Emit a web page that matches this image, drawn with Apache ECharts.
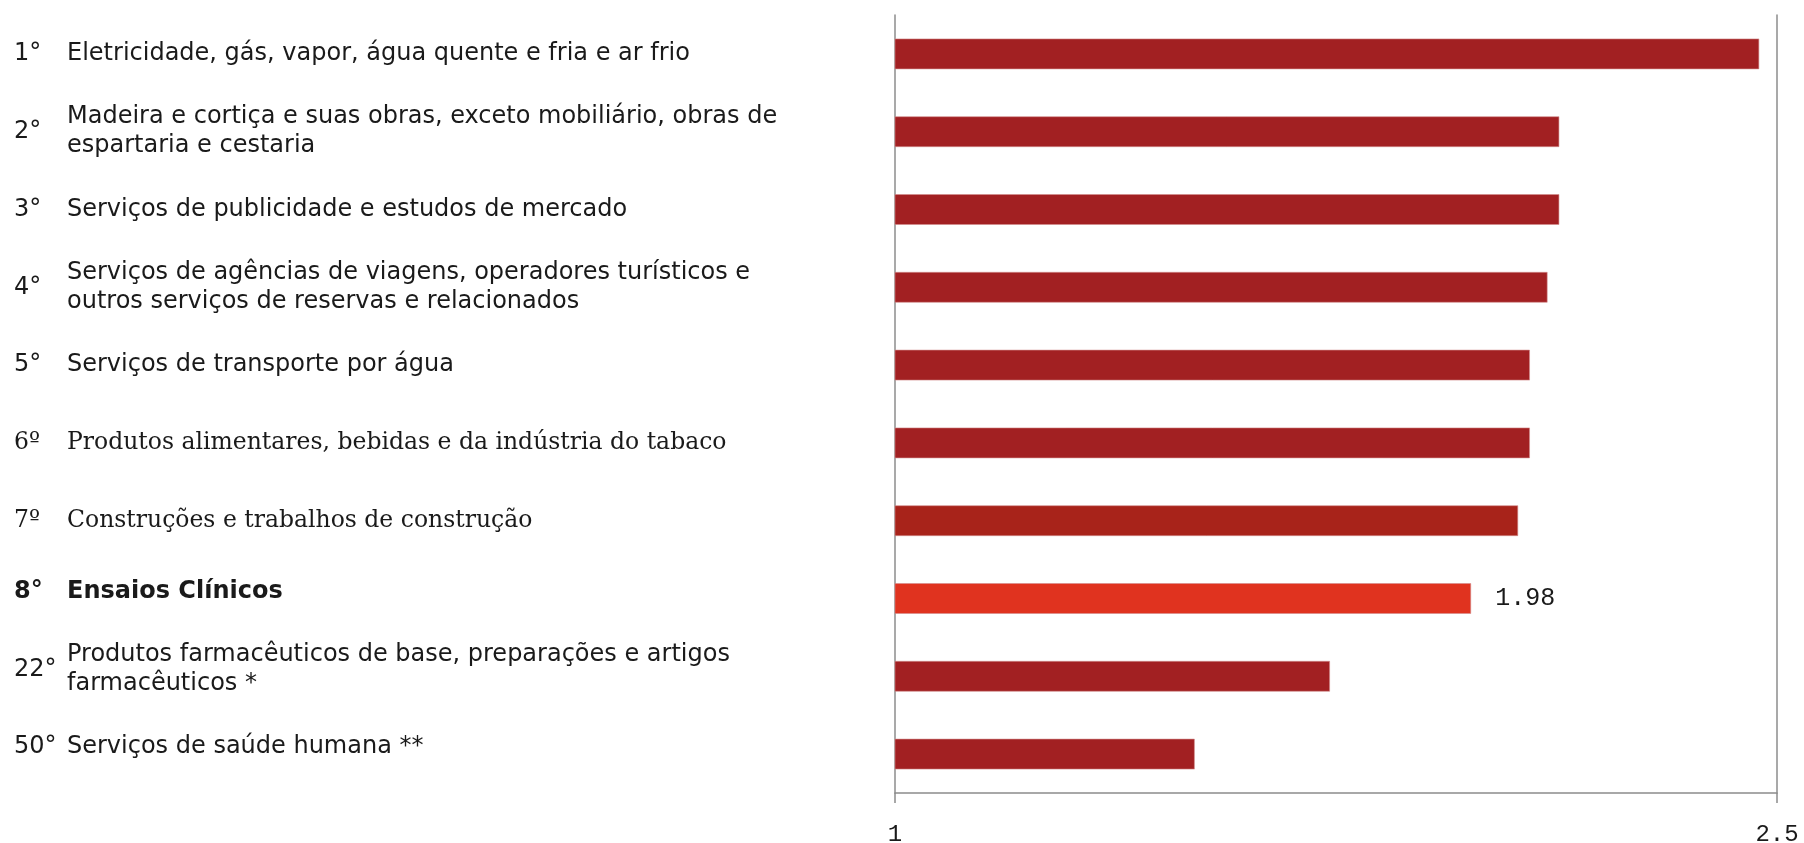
<!DOCTYPE html>
<html>
<head>
<meta charset="utf-8">
<script src="https://cdn.jsdelivr.net/npm/echarts@6/dist/echarts.min.js"></script>
<style>
  html, body { margin: 0; padding: 0; background: #ffffff; }
  #chart { width: 1804px; height: 843px; }
</style>
</head>
<body>
<div id="chart"></div>
<script>
// Ranking of sectors by multiplier value
const ranks = ['1°', '2°', '3°', '4°', '5°', '6º', '7º', '8°', '22°', '50°'];
const sectors = [
  'Eletricidade, gás, vapor, água quente e fria e ar frio',
  'Madeira e cortiça e suas obras, exceto mobiliário, obras de\nespartaria e cestaria',
  'Serviços de publicidade e estudos de mercado',
  'Serviços de agências de viagens, operadores turísticos e\noutros serviços de reservas e relacionados',
  'Serviços de transporte por água',
  'Produtos alimentares, bebidas e da indústria do tabaco',
  'Construções e trabalhos de construção',
  'Ensaios Clínicos',
  'Produtos farmacêuticos de base, preparações e artigos\nfarmacêuticos *',
  'Serviços de saúde humana **'
];
const values = [2.47, 2.13, 2.13, 2.11, 2.08, 2.08, 2.06, 1.98, 1.74, 1.51];
const axisTicks = [1, 2.5];
const highlightIndex = 7;
const serifRows = [5, 6];

const BAR = '#a22022';
const BAR_ALT = '#a8231a';
const BAR_HI = '#e0331f';
const AXIS = '#8c8c8c';
const TEXT = '#1a1a1a';

const sansFont = '"DejaVu Sans", Verdana, sans-serif';
const serifFont = '"DejaVu Serif", Georgia, serif';
const monoFont = '"Liberation Mono", "DejaVu Sans Mono", monospace';

// Rich styles for the row labels
const rich = {
  s: { fontFamily: sansFont, fontSize: 24, lineHeight: 29, color: TEXT },
  r: { fontFamily: serifFont, fontSize: 23.5, lineHeight: 29, color: TEXT },
  b: { fontFamily: sansFont, fontSize: 24, fontWeight: 'bold', lineHeight: 29, color: TEXT },
  gap: { fontSize: 1, lineHeight: 14 }
};

function styleKey(i) {
  if (serifRows.includes(i)) return 'r';
  if (i === highlightIndex) return 'b';
  return 's';
}

// Lower rows sit slightly above their bar centres: a small trailing gap line lifts them
function richLabel(text, i) {
  const key = styleKey(i);
  let out = text.split('\n').map((l) => `{${key}|${l}}`).join('\n');
  if (i >= highlightIndex) out += '\n{gap| }';
  return out;
}

const barData = values.map((v, i) => {
  const item = { value: v, itemStyle: { color: i === highlightIndex ? BAR_HI : (i === 6 ? BAR_ALT : BAR) } };
  if (i === highlightIndex) {
    item.label = {
      show: true,
      position: 'right',
      distance: 24,
      formatter: (p) => p.value.toFixed(2),
      fontFamily: monoFont,
      fontSize: 25,
      color: TEXT
    };
  }
  return item;
});

const chart = echarts.init(document.getElementById('chart'), null, { renderer: 'canvas' });

chart.setOption({
  animation: false,
  backgroundColor: '#ffffff',
  grid: { left: 895, right: 27, top: 15, bottom: 50, containLabel: false, outerBoundsMode: 'none' },
  xAxis: {
    type: 'value',
    min: 1,
    max: 2.5,
    axisLine: { show: true, lineStyle: { color: AXIS, width: 1.5 } },
    axisTick: { show: true, length: 10, customValues: axisTicks, lineStyle: { color: AXIS, width: 1.5 } },
    axisLabel: {
      customValues: axisTicks,
      margin: 30,
      fontFamily: monoFont,
      fontSize: 24,
      color: TEXT,
      formatter: (v) => String(v)
    },
    splitLine: { show: false }
  },
  yAxis: [
    {
      type: 'category',
      inverse: true,
      data: sectors,
      position: 'left',
      axisLine: { show: true, lineStyle: { color: AXIS, width: 1.5 } },
      axisTick: { show: false },
      axisLabel: {
        align: 'left',
        margin: 828,
        formatter: richLabel,
        rich: rich
      }
    },
    {
      type: 'category',
      inverse: true,
      data: ranks,
      position: 'left',
      axisLine: { show: false },
      axisTick: { show: false },
      axisLabel: {
        align: 'left',
        margin: 881,
        formatter: richLabel,
        rich: rich
      }
    },
    {
      type: 'category',
      inverse: true,
      data: ranks,
      position: 'right',
      axisLine: { show: true, lineStyle: { color: AXIS, width: 1.5 } },
      axisTick: { show: false },
      axisLabel: { show: false }
    }
  ],
  series: [
    {
      type: 'bar',
      yAxisIndex: 0,
      data: barData,
      barWidth: 31,
      itemStyle: { borderColor: 'rgba(210,140,140,0.6)', borderWidth: 1 }
    }
  ]
});
</script>
</body>
</html>
